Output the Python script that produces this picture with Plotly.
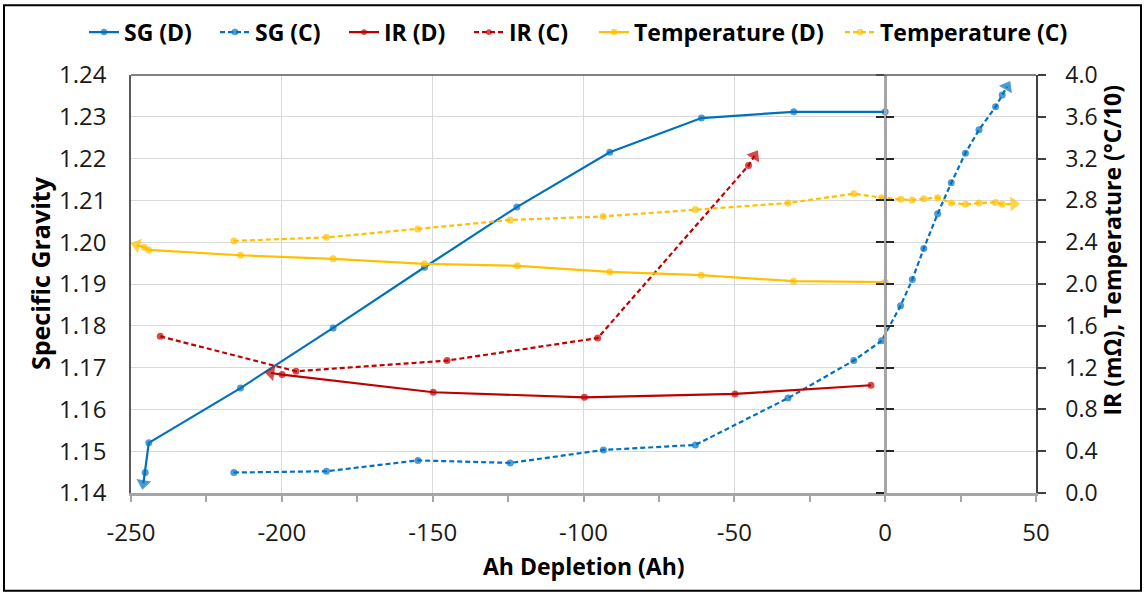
import plotly.graph_objects as go

# ---- data ----
sg_d_x = [0.0, -30.3, -60.9, -91.3, -122.1, -152.7, -183.0, -213.7, -244.1, -245.3, -245.9]
sg_d_y = [1.2312, 1.2312, 1.2297, 1.2215, 1.2084, 1.1940, 1.1795, 1.1651, 1.1520, 1.1449, 1.1423]

sg_c_x = [-215.9, -185.2, -154.9, -124.3, -93.4, -62.9, -32.2, -10.4, -1.2, 5.1, 9.0,
          12.8, 17.4, 21.9, 26.6, 31.1, 36.6, 38.8, 40.4]
sg_c_y = [1.1449, 1.1452, 1.1478, 1.1472, 1.1503, 1.1515, 1.1627, 1.1717, 1.1764, 1.1848, 1.1911,
          1.1985, 1.2068, 1.2142, 1.2213, 1.2269, 1.2324, 1.2352, 1.2372]

ir_d_x = [-4.7, -49.8, -99.7, -149.8, -199.9, -203.6]
ir_d_y = [1.031, 0.948, 0.916, 0.964, 1.133, 1.148]

ir_c_x = [-240.3, -195.3, -145.2, -95.3, -45.3, -43.3]
ir_c_y = [1.499, 1.165, 1.267, 1.483, 3.134, 3.227]

temp_d_x = [0.0, -30.4, -61.0, -91.3, -121.9, -152.7, -183.0, -213.7, -244.1, -245.6, -248.1]
temp_d_y = [2.017, 2.027, 2.084, 2.116, 2.174, 2.193, 2.241, 2.275, 2.326, 2.351, 2.372]

temp_c_x = [-215.9, -185.2, -154.9, -124.3, -93.5, -62.9, -32.2, -10.4, -1.2, 5.2, 8.9,
            12.8, 17.4, 21.9, 26.6, 31.1, 36.6, 38.8, 42.6]
temp_c_y = [2.412, 2.447, 2.527, 2.613, 2.647, 2.714, 2.775, 2.864, 2.826, 2.810, 2.804,
            2.816, 2.826, 2.775, 2.762, 2.775, 2.781, 2.762, 2.766]

series_names = ["SG (D)", "SG (C)", "IR (D)", "IR (C)", "Temperature (D)", "Temperature (C)"]

x_tick_vals = [-250, -200, -150, -100, -50, 0, 50]
x_tick_text = ["-250", "-200", "-150", "-100", "-50", "0", "50"]

BLUE = "#0070C0"
RED = "#C00000"
YELLOW = "#FFC000"
FONT = "Open Sans"

fig = go.Figure()

specs = [
    (sg_d_x, sg_d_y, series_names[0], BLUE, "solid", "y"),
    (sg_c_x, sg_c_y, series_names[1], BLUE, "5px,3px", "y"),
    (ir_d_x, ir_d_y, series_names[2], RED, "solid", "y2"),
    (ir_c_x, ir_c_y, series_names[3], RED, "5px,3px", "y2"),
    (temp_d_x, temp_d_y, series_names[4], YELLOW, "solid", "y2"),
    (temp_c_x, temp_c_y, series_names[5], YELLOW, "5px,3px", "y2"),
]
legend_ids = ["legend", "legend2", "legend3", "legend4", "legend5", "legend6"]

for i, (xs, ys, name, color, dash, yax) in enumerate(specs):
    n = len(xs)
    fig.add_trace(go.Scatter(
        x=xs, y=ys, name=name, yaxis=yax, mode="lines+markers",
        legend=legend_ids[i],
        line=dict(color=color, width=2.2, dash=dash),
        marker=dict(symbol="circle", size=[7] * (n - 1) + [0], color=color, line=dict(width=0)),
    ))
for i, (xs, ys, name, color, dash, yax) in enumerate(specs):
    # end-of-line arrowhead, oriented along the last segment
    fig.add_trace(go.Scatter(
        x=xs[-2:], y=ys[-2:], yaxis=yax, mode="markers", showlegend=False, hoverinfo="skip",
        marker=dict(symbol=["circle", "triangle-up"], size=[0, 13], angleref="previous",
                    color=color, line=dict(width=0)),
    ))

# empty helper traces so the x=0 crossing axes render
for ya in ["y3", "y4"]:
    fig.add_trace(go.Scatter(x=[], y=[], yaxis=ya, showlegend=False, hoverinfo="skip"))

tick_font = dict(family=FONT, size=23, color="#1a1a1a")

# legend text start positions (px) in the reference
legend_text_px = [127, 258, 387, 512, 637, 883]
legend_layout = {}
for lid, tx in zip(legend_ids, legend_text_px):
    legend_layout[lid] = dict(
        orientation="h", x=(tx - 43 - 131) / 905, xanchor="left", y=1.10, yanchor="middle",
        font=dict(family=FONT, size=23, color="#000", weight="bold"),
        bgcolor="rgba(0,0,0,0)", borderwidth=0,
    )

fig.update_layout(
    width=1144, height=594,
    margin=dict(l=131, r=108, t=74, b=101),
    paper_bgcolor="white", plot_bgcolor="white",
    font=dict(family=FONT, color="#000"),
    xaxis=dict(
        range=[-250, 50], tickmode="array", tickvals=x_tick_vals, ticktext=x_tick_text,
        showgrid=True, gridcolor="#D9D9D9", gridwidth=1,
        zeroline=False,
        showline=True, linecolor="#A6A6A6", linewidth=2.5,
        ticks="outside", ticklen=6, tickcolor="#A6A6A6", tickwidth=1.5,
        minor=dict(tick0=0, dtick=25, ticks="outside", ticklen=6, tickcolor="#A6A6A6",
                   tickwidth=1.5, showgrid=False),
        tickfont=dict(family=FONT, size=24, color="#1a1a1a"), ticklabelstandoff=10,
    ),
    yaxis=dict(
        range=[1.14, 1.24], dtick=0.01, tick0=1.14, tickformat=".2f",
        showgrid=True, gridcolor="#D9D9D9", gridwidth=1,
        zeroline=False,
        showline=True, linecolor="#595959", linewidth=1.5,
        ticks="", tickfont=dict(family=FONT, size=24, color="#1a1a1a"), ticklabelstandoff=18,
    ),
    yaxis2=dict(
        range=[0, 4], dtick=0.4, tick0=0, tickformat=".1f",
        overlaying="y", side="right", anchor="x",
        showgrid=False, zeroline=False,
        showline=True, linecolor="#404040", linewidth=1.5,
        ticks="outside", ticklen=8, tickcolor="#404040", tickwidth=1.5,
        tickfont=tick_font, ticklabelstandoff=15,
    ),
    yaxis3=dict(
        range=[1.14, 1.24], dtick=0.01, tick0=1.14,
        overlaying="y", side="left", anchor="free", position=250 / 300,
        showgrid=False, zeroline=False, showticklabels=False,
        showline=True, linecolor="#A6A6A6", linewidth=2.5,
        ticks="outside", ticklen=8, tickcolor="#262626", tickwidth=1.5,
    ),
    yaxis4=dict(
        range=[1.14, 1.24], dtick=0.01, tick0=1.14,
        overlaying="y", side="left", anchor="free", position=250 / 300,
        showgrid=False, zeroline=False, showticklabels=False,
        showline=False,
        ticks="inside", ticklen=8, tickcolor="#262626", tickwidth=1.5,
    ),
    showlegend=True,
    **legend_layout,
)

# axis titles
fig.add_annotation(text="Ah Depletion (Ah)", xref="paper", yref="paper",
                   x=0.5, y=-0.175, xanchor="center", yanchor="middle",
                   showarrow=False, font=dict(family=FONT, size=23, color="#000", weight="bold"))
fig.add_annotation(text="Specific Gravity", xref="paper", yref="paper",
                   x=-0.1006, y=0.526, xanchor="center", yanchor="middle", textangle=-90,
                   showarrow=False, font=dict(family=FONT, size=25, color="#000", weight="bold"))
fig.add_annotation(text="IR (mΩ), Temperature (°C/10)", xref="paper", yref="paper",
                   x=(1112 - 131) / 905, y=0.58, xanchor="center", yanchor="middle", textangle=-90,
                   showarrow=False, font=dict(family=FONT, size=23, color="#000", weight="bold"))

# plot-area top border and outer chart frame
fig.add_shape(type="line", xref="paper", yref="paper", x0=0, x1=1, y0=1, y1=1,
              line=dict(color="#595959", width=1.5))
fig.add_shape(type="rect", xref="paper", yref="paper",
              x0=(4 - 131) / 905, x1=(1141 - 131) / 905,
              y0=(493 - 591) / 419, y1=(493 - 4) / 419,
              line=dict(color="#000000", width=2), fillcolor="rgba(0,0,0,0)", layer="below")

fig.write_html("out.html")
